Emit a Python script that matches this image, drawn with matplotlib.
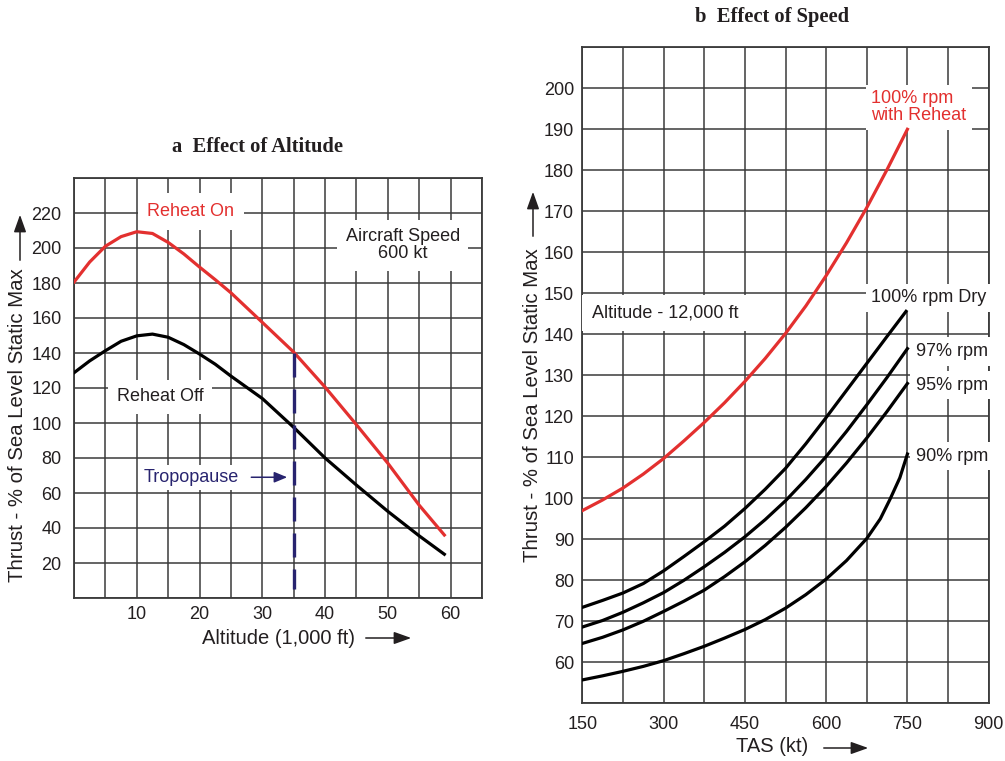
import matplotlib
matplotlib.use("Agg")
import matplotlib.pyplot as plt

plt.rcParams['font.family'] = ['Liberation Sans', 'DejaVu Sans']

# ---- panel a: effect of altitude ----
alt = [0, 2.5, 5, 7.5, 10, 12.5, 15, 17.5, 20, 22.5, 25, 30, 35, 40, 45, 50, 55, 59]
reheat_on = [180.5, 192, 201, 206.5, 209.3, 208.3, 203.2, 196.6, 189.1, 181.9, 174.4,
             157.5, 140.5, 120.5, 99, 77, 53, 36]
reheat_off = [128.7, 135.5, 141.3, 146.7, 149.8, 150.8, 149, 144.8, 139.4, 133.6, 126.8,
              114, 97.5, 80, 64.5, 49.5, 35.5, 25]
tropopause_alt = 35
tropopause_span = [140, 5]

# ---- panel b: effect of speed ----
tas = [150, 187.5, 225, 262.5, 300, 337.5, 375, 412.5, 450, 487.5, 525, 562.5,
       600, 637.5, 675, 712.5, 750]
rpm100_reheat = [97, 99.6, 102.5, 105.9, 109.7, 114, 118.5, 123.3, 128.5, 134.1, 140.2,
                 146.9, 154.3, 162.3, 170.9, 180.2, 190]
tas_dry = [150, 187.5, 225, 262.5, 300, 337.5, 375, 412.5, 450, 487.5, 525, 562.5,
           600, 637.5, 675, 712.5, 747.5]
rpm100_dry = [73.4, 75.1, 76.9, 79.2, 82.3, 85.8, 89.4, 93.2, 97.5, 102.2, 107.3,
              113.3, 119.7, 126.3, 132.9, 139.5, 145.6]
rpm97 = [68.6, 70.2, 72.2, 74.5, 77.0, 80.0, 83.3, 86.8, 90.6, 94.8, 99.4, 104.6,
         110.2, 116.3, 122.8, 129.5, 136.5]
rpm95 = [64.6, 66.1, 67.9, 70.0, 72.4, 74.9, 77.6, 80.9, 84.5, 88.5, 92.9, 97.7,
         102.9, 108.6, 114.7, 121.2, 128]
tas90 = [150, 187.5, 225, 262.5, 300, 337.5, 375, 412.5, 450, 487.5, 525, 562.5,
         600, 637.5, 675, 700, 718, 736, 750]
rpm90 = [55.7, 56.7, 57.8, 59.0, 60.4, 62.1, 63.9, 65.9, 68.0, 70.4, 73.2, 76.5,
         80.3, 84.8, 90.2, 95, 99.8, 105, 110.8]

RED = "#e3302f"
NAVY = "#28246f"
GRID = "#3a3a3a"
INK = "#231f20"

W, H = 1005, 761
fig = plt.figure(figsize=(W / 100, H / 100), dpi=100)


def fx(px):
    return px / W


def fy(py):
    return 1 - py / H


def style_axes(ax):
    ax.grid(True, color=GRID, lw=1.1)
    ax.set_axisbelow(True)
    for s in ax.spines.values():
        s.set_color(GRID)
        s.set_linewidth(1.3)
    ax.tick_params(length=0, labelsize=13, labelcolor=INK)


box = dict(facecolor="white", edgecolor="none", pad=4)

# panel a
ax1 = fig.add_axes([fx(74), fy(598), fx(482) - fx(74), fy(178) - fy(598)])
ax1.set_xlim(0, 65)
ax1.set_ylim(0, 240)
ax1.set_xticks(range(0, 66, 5))
ax1.set_xticklabels(["" if v % 10 or v == 0 else str(v) for v in range(0, 66, 5)])
ax1.set_yticks(range(0, 241, 20))
ax1.set_yticklabels(["" if v in (0, 240) else str(v) for v in range(0, 241, 20)])
style_axes(ax1)
ax1.tick_params(axis="y", pad=9)
ax1.tick_params(axis="x", pad=6)

ax1.plot(alt, reheat_on, color=RED, lw=2.3, zorder=4)
ax1.plot(alt, reheat_off, color="black", lw=2.3, zorder=4)
ax1.plot([tropopause_alt, tropopause_alt], tropopause_span, color=NAVY, lw=2.4,
         linestyle=(0, (7.2, 3.6)), zorder=4)

ax1.text(18.6, 221, "Reheat On", color=RED, fontsize=13, ha="center", va="center",
         bbox=dict(facecolor="white", edgecolor="none", pad=7), zorder=3)
ax1.text(13.7, 115, "Reheat Off", color=INK, fontsize=13, ha="center", va="center",
         bbox=dict(facecolor="white", edgecolor="none", pad=6), zorder=3)
ax1.text(52.4, 201.5, "Aircraft Speed\n600 kt", color=INK, fontsize=13, ha="center",
         va="center", linespacing=1.0,
         bbox=dict(facecolor="white", edgecolor="none", pad=6), zorder=3)
ax1.text(18.7, 69, "Tropopause", color=NAVY, fontsize=13, ha="center", va="center",
         bbox=dict(facecolor="white", edgecolor="none", pad=3), zorder=3)
ax1.annotate("", xy=(34.4, 69), xytext=(27.8, 69),
             arrowprops=dict(arrowstyle="-|>,head_length=0.6,head_width=0.25",
                             color=NAVY, lw=1.1, mutation_scale=13),
             zorder=5)

fig.text(fx(258), fy(147), "a  Effect of Altitude", fontsize=14.8, fontweight="bold",
         family="Liberation Serif", ha="center", va="center", color=INK)
fig.text(fx(18), fy(582), "Thrust - % of Sea Level Static Max", rotation=90,
         fontsize=14.7, ha="center", va="bottom", color=INK)
fig.text(fx(279), fy(638), "Altitude (1,000 ft)", fontsize=14.5, ha="center",
         va="center", color=INK)

# panel b
ax2 = fig.add_axes([fx(582.3), fy(703.3), fx(988.7) - fx(582.3), fy(47.3) - fy(703.3)])
ax2.set_xlim(150, 900)
ax2.set_ylim(50, 210)
ax2.set_xticks(range(150, 901, 75))
ax2.set_xticklabels([str(v) if (v - 150) % 150 == 0 else "" for v in range(150, 901, 75)])
ax2.set_yticks(range(50, 211, 10))
ax2.set_yticklabels(["" if v in (50, 210) else str(v) for v in range(50, 211, 10)])
style_axes(ax2)
ax2.tick_params(axis="y", pad=6)
ax2.tick_params(axis="x", pad=9)

ax2.plot(tas, rpm100_reheat, color=RED, lw=2.3, zorder=4)
ax2.plot(tas_dry, rpm100_dry, color="black", lw=2.3, zorder=4)
ax2.plot(tas, rpm97, color="black", lw=2.3, zorder=4)
ax2.plot(tas, rpm95, color="black", lw=2.3, zorder=4)
ax2.plot(tas90, rpm90, color="black", lw=2.3, zorder=4)

ax2.text(683, 195.4, "100% rpm\nwith Reheat", color=RED, fontsize=13, ha="left",
         va="center", linespacing=1.0, bbox=box, zorder=3)
ax2.text(683, 148.9, "100% rpm Dry", color=INK, fontsize=13, ha="left", va="center",
         bbox=box, zorder=3)
ax2.text(766, 135.8, "97% rpm", color=INK, fontsize=13, ha="left", va="center",
         bbox=box, zorder=3)
ax2.text(766, 127.6, "95% rpm", color=INK, fontsize=13, ha="left", va="center",
         bbox=box, zorder=3)
ax2.text(766, 110.3, "90% rpm", color=INK, fontsize=13, ha="left", va="center",
         bbox=box, zorder=3)
ax2.text(167, 145.2, "Altitude - 12,000 ft", color=INK, fontsize=13, ha="left",
         va="center", bbox=dict(facecolor="white", edgecolor="none", pad=7), zorder=3)

fig.text(fx(772), fy(17), "b  Effect of Speed", fontsize=14.8, fontweight="bold",
         family="Liberation Serif", ha="center", va="center", color=INK)
fig.text(fx(532), fy(562), "Thrust - % of Sea Level Static Max", rotation=90,
         fontsize=14.7, ha="center", va="bottom", color=INK)
fig.text(fx(772.5), fy(746), "TAS (kt)", fontsize=14.5, ha="center", va="center",
         color=INK)

# axis-label arrows
arrow = dict(arrowstyle="-|>,head_length=0.7,head_width=0.25", color=INK, lw=1.1,
             mutation_scale=15)
for start, end in [((363, 638), (414, 638)), ((821, 748), (871, 748)),
                   ((20, 263), (20, 212)), ((533, 239), (533, 189))]:
    fig.add_artist(matplotlib.patches.FancyArrowPatch(
        (fx(start[0]), fy(start[1])), (fx(end[0]), fy(end[1])),
        transform=fig.transFigure, **arrow))

fig.savefig("out.png", dpi=100)
